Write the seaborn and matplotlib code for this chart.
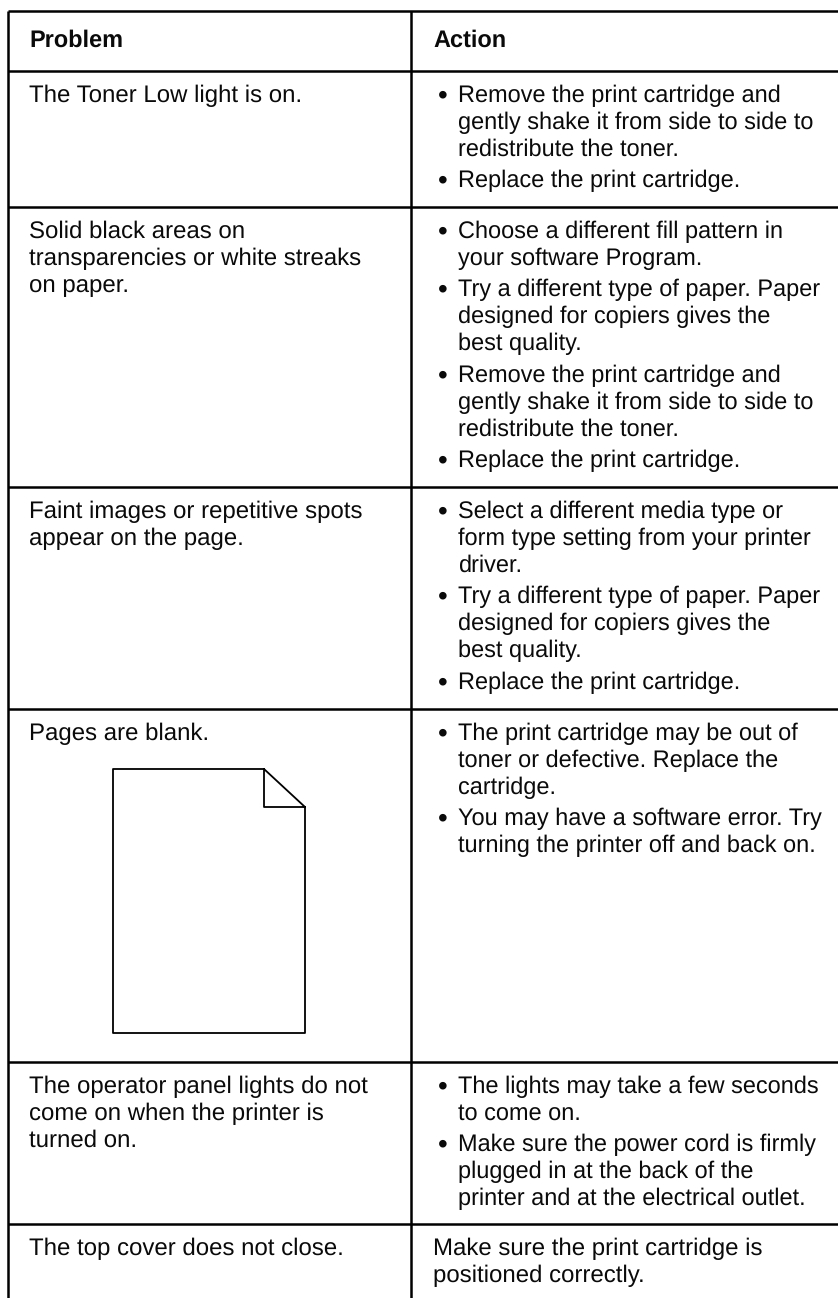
import matplotlib
matplotlib.use('Agg')
import matplotlib.pyplot as plt
import seaborn as sns

# Текст таблицы
HEADERS = ['Problem', 'Action']
PROBLEMS = [
    ['The Toner Low light is on.'],
    ['Solid black areas on', 'transparencies or white streaks', 'on paper.'],
    ['Faint images or repetitive spots', 'appear on the page.'],
    ['Pages are blank.'],
    ['The operator panel lights do not', 'come on when the printer is', 'turned on.'],
    ['The top cover does not close.'],
]
ACTIONS = [
    [['Remove the print cartridge and', 'gently shake it from side to side to', 'redistribute the toner.'],
     ['Replace the print cartridge.']],
    [['Choose a different fill pattern in', 'your software Program.'],
     ['Try a different type of paper. Paper', 'designed for copiers gives the', 'best quality.'],
     ['Remove the print cartridge and', 'gently shake it from side to side to', 'redistribute the toner.'],
     ['Replace the print cartridge.']],
    [['Select a different media type or', 'form type setting from your printer', 'driver.'],
     ['Try a different type of paper. Paper', 'designed for copiers gives the', 'best quality.'],
     ['Replace the print cartridge.']],
    [['The print cartridge may be out of', 'toner or defective. Replace the', 'cartridge.'],
     ['You may have a software error. Try', 'turning the printer off and back on.']],
    [['The lights may take a few seconds', 'to come on.'],
     ['Make sure the power cord is firmly', 'plugged in at the back of the', 'printer and at the electrical outlet.']],
]
LAST_ACTION = ['Make sure the print cartridge is', 'positioned correctly.']

# Разметка в пикселях
W, H = 838, 1298
ROW_TOPS = [70.5, 207, 487, 709, 1062, 1224]
TOP = 10.5
LEFT, MID = 8, 411
TEXT_L, TEXT_R, BULLET_X = 29, 458, 438
LINE, PARA = 27, 31.5
PAGE_X = [264, 113, 113, 305, 305, 264, 264, 305]
PAGE_Y = [769, 769, 1033, 1033, 807, 769, 807, 807]
FS = 17.25
FS_RIGHT = 16.95
FS_BULLET = 20

sns.set_theme(style='white')
plt.rcParams['font.family'] = ['Liberation Sans', 'DejaVu Sans']
plt.rcParams['text.hinting'] = 'no_hinting'

fig = plt.figure(figsize=(W / 100, H / 100), dpi=100, facecolor='white')
ax = fig.add_axes([0, 0, 1, 1])
ax.set_xlim(0, W)
ax.set_ylim(H, 0)
ax.axis('off')

# Линейки таблицы
ax.hlines([TOP] + ROW_TOPS, LEFT, W, color='black', lw=1.8)
ax.vlines([LEFT, MID], TOP, H, color='black', lw=1.8)

# Значок пустой страницы
sns.lineplot(x=PAGE_X, y=PAGE_Y, sort=False, estimator=None, color='black', lw=1.3, ax=ax)

TXT = dict(color='#0a0a0a', va='baseline')
ax.text(TEXT_L, 47, HEADERS[0], fontweight='bold', fontsize=FS_RIGHT, **TXT)
ax.text(433, 47, HEADERS[1], fontweight='bold', fontsize=FS_RIGHT, **TXT)

for top, lines in zip(ROW_TOPS, PROBLEMS):
    for i, line in enumerate(lines):
        ax.text(TEXT_L, round(top + 31.4) + i * LINE, line, fontsize=FS, **TXT)

for top, items in zip(ROW_TOPS, ACTIONS):
    y = round(top + 31.4)
    for item in items:
        ax.text(BULLET_X, y + 1, '•', fontsize=FS_BULLET, **TXT)
        for i, line in enumerate(item):
            ax.text(TEXT_R, y + i * LINE, line, fontsize=FS_RIGHT, **TXT)
        y += (len(item) - 1) * LINE + PARA

for i, line in enumerate(LAST_ACTION):
    ax.text(433, round(ROW_TOPS[-1] + 31.4) + i * LINE, line, fontsize=FS, **TXT)

fig.savefig('out.png', dpi=100)
